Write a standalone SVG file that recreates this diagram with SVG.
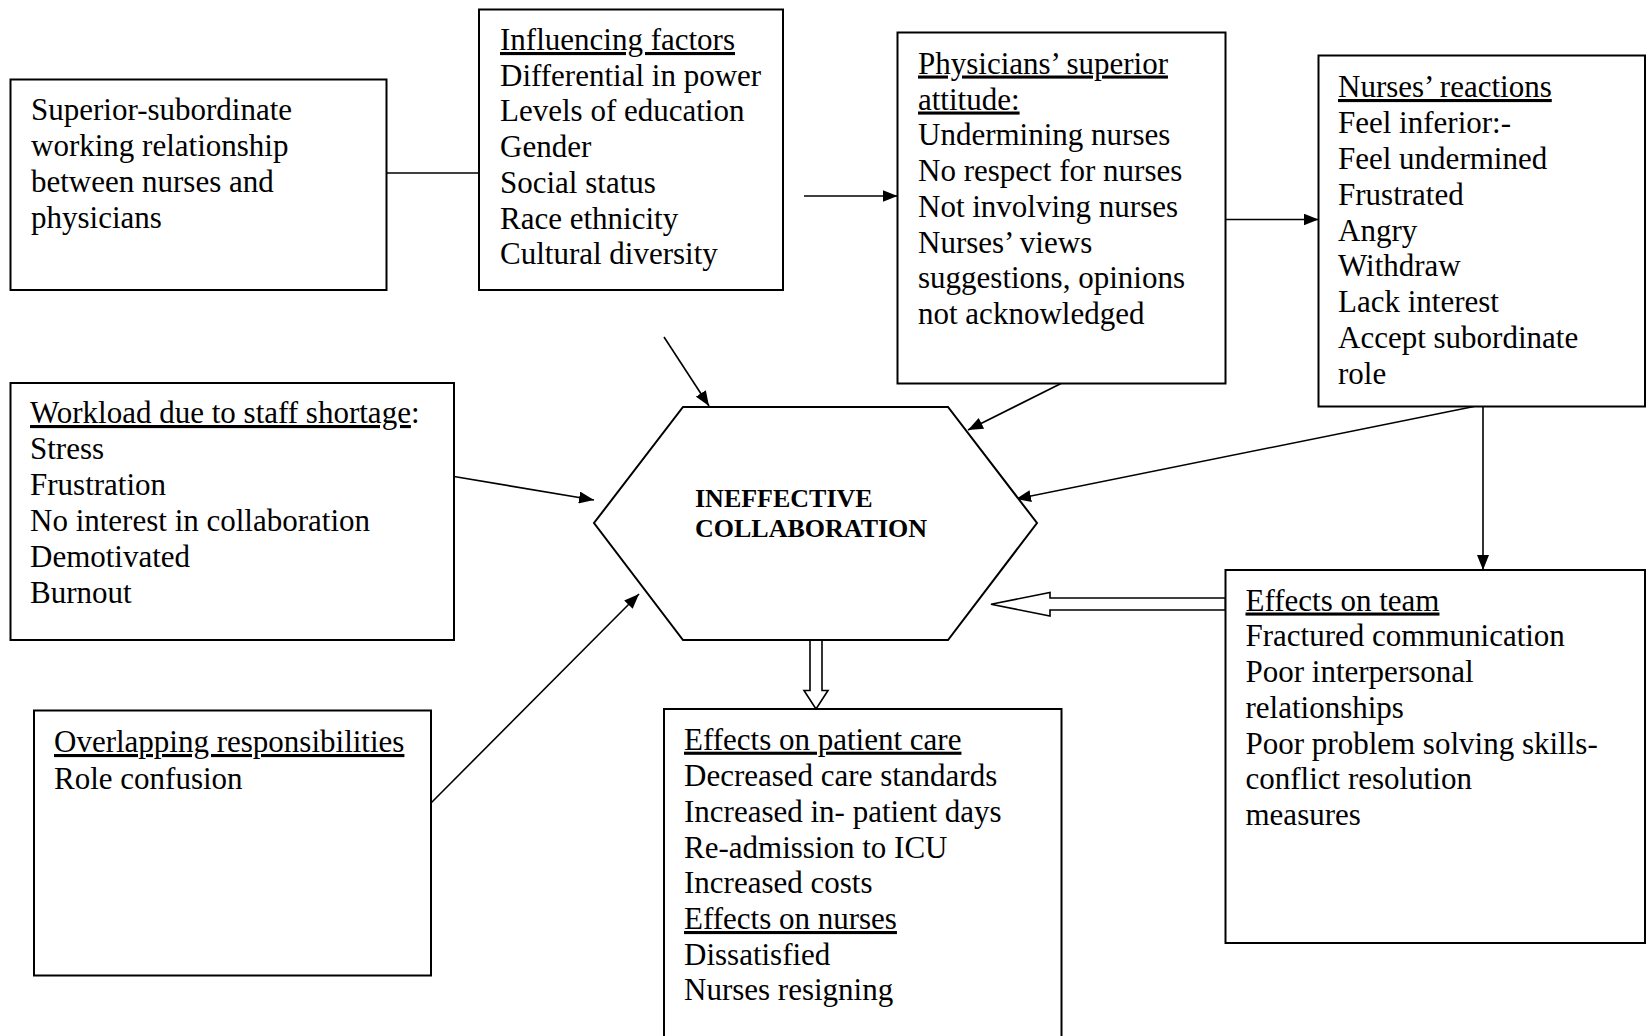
<svg xmlns="http://www.w3.org/2000/svg" width="1648" height="1036" viewBox="0 0 1648 1036">
<style>
.box{fill:#fff;stroke:#000;stroke-width:2}
.t{font-family:"Liberation Serif","Times New Roman",serif;font-size:31px;fill:#000}
.b{font-family:"Liberation Serif","Times New Roman",serif;font-size:26px;font-weight:bold;fill:#000}
.u{text-decoration:underline}
.c{stroke:#000;stroke-width:1.6;fill:none}
.blk{fill:#fff;stroke:#000;stroke-width:1.6}
</style>
<defs>
<marker id="ah" markerUnits="userSpaceOnUse" markerWidth="15" markerHeight="12" refX="15" refY="6" orient="auto">
<path d="M0,0 L15,6 L0,12 z" fill="#000"/>
</marker>
</defs>
<rect width="1648" height="1036" fill="#fff"/>
<g id="connectors">
<line class="c" x1="386.5" y1="173" x2="479" y2="173"/>
<line class="c" x1="804" y1="196" x2="897.5" y2="196" marker-end="url(#ah)"/>
<line class="c" x1="1225.5" y1="219.5" x2="1318.5" y2="219.5" marker-end="url(#ah)"/>
<line class="c" x1="664" y1="337" x2="709" y2="406" marker-end="url(#ah)"/>
<line class="c" x1="1061" y1="383.5" x2="968" y2="430" marker-end="url(#ah)"/>
<line class="c" x1="454" y1="476.5" x2="594" y2="500" marker-end="url(#ah)"/>
<line class="c" x1="1474" y1="406.5" x2="1016" y2="499" marker-end="url(#ah)"/>
<line class="c" x1="1483" y1="406.5" x2="1483" y2="570" marker-end="url(#ah)"/>
<line class="c" x1="431" y1="803" x2="639" y2="594" marker-end="url(#ah)"/>
<polygon class="blk" points="1225.5,598 1050,598 1050,592.5 991,604.2 1050,616 1050,610 1225.5,610"/>
<polygon class="blk" points="810,640 810,690.5 804,690.5 816,709 828,690.5 822,690.5 822,640"/>
</g>
<g id="superior-subordinate">
<rect class="box" x="10.5" y="79.5" width="376" height="210.5"/>
<text class="t"><tspan x="31" y="120">Superior-subordinate</tspan><tspan x="31" y="156">working relationship</tspan><tspan x="31" y="192">between nurses and</tspan><tspan x="31" y="228">physicians</tspan></text>
</g>
<g id="influencing-factors">
<rect class="box" x="479" y="9.5" width="304" height="280.5"/>
<text class="t"><tspan x="500" y="50" class="u">Influencing factors</tspan><tspan x="500" y="85.5">Differential in power</tspan><tspan x="500" y="121">Levels of education</tspan><tspan x="500" y="157">Gender</tspan><tspan x="500" y="192.5">Social status</tspan><tspan x="500" y="228.5">Race ethnicity</tspan><tspan x="500" y="264">Cultural diversity</tspan></text>
</g>
<g id="physicians-attitude">
<rect class="box" x="897.5" y="32.5" width="328" height="351"/>
<text class="t"><tspan x="918" y="73.5" class="u">Physicians’ superior</tspan><tspan x="918" y="109.5" class="u">attitude:</tspan><tspan x="918" y="145.3">Undermining nurses</tspan><tspan x="918" y="181">No respect for nurses</tspan><tspan x="918" y="216.7">Not involving nurses</tspan><tspan x="918" y="252.5">Nurses’ views</tspan><tspan x="918" y="288">suggestions, opinions</tspan><tspan x="918" y="324">not acknowledged</tspan></text>
</g>
<g id="nurses-reactions">
<rect class="box" x="1318.5" y="55.5" width="326.5" height="351"/>
<text class="t"><tspan x="1338" y="97" class="u">Nurses’ reactions</tspan><tspan x="1338" y="133">Feel inferior:-</tspan><tspan x="1338" y="169">Feel undermined</tspan><tspan x="1338" y="204.5">Frustrated</tspan><tspan x="1338" y="240.5">Angry</tspan><tspan x="1338" y="276">Withdraw</tspan><tspan x="1338" y="312">Lack interest</tspan><tspan x="1338" y="348">Accept subordinate</tspan><tspan x="1338" y="384">role</tspan></text>
</g>
<g id="workload">
<rect class="box" x="10.5" y="383" width="443.5" height="257"/>
<text class="t"><tspan x="30" y="423"><tspan class="u">Workload due to staff shortage</tspan>:</tspan><tspan x="30" y="459">Stress</tspan><tspan x="30" y="495">Frustration</tspan><tspan x="30" y="531">No interest in collaboration</tspan><tspan x="30" y="567">Demotivated</tspan><tspan x="30" y="603">Burnout</tspan></text>
</g>
<g id="ineffective-collaboration">
<polygon class="box" points="683,407 948,407 1037,523 948,640 683,640 594,523"/>
<text class="b"><tspan x="695" y="507">INEFFECTIVE</tspan><tspan x="695" y="537">COLLABORATION</tspan></text>
</g>
<g id="overlapping">
<rect class="box" x="34" y="710.5" width="397" height="265"/>
<text class="t"><tspan x="54" y="752" class="u">Overlapping responsibilities</tspan><tspan x="54" y="788.5">Role confusion</tspan></text>
</g>
<g id="effects-patient-care">
<rect class="box" x="664" y="709" width="397.5" height="340"/>
<text class="t"><tspan x="684" y="749.7" class="u">Effects on patient care</tspan><tspan x="684" y="785.5">Decreased care standards</tspan><tspan x="684" y="821.5">Increased in- patient days</tspan><tspan x="684" y="857.5">Re-admission to ICU</tspan><tspan x="684" y="893.3">Increased costs</tspan><tspan x="684" y="929" class="u">Effects on nurses</tspan><tspan x="684" y="964.5">Dissatisfied</tspan><tspan x="684" y="1000">Nurses resigning</tspan></text>
</g>
<g id="effects-team">
<rect class="box" x="1225.5" y="570" width="419.5" height="373"/>
<text class="t"><tspan x="1245.5" y="610.5" class="u">Effects on team</tspan><tspan x="1245.5" y="646">Fractured communication</tspan><tspan x="1245.5" y="682">Poor interpersonal</tspan><tspan x="1245.5" y="717.5">relationships</tspan><tspan x="1245.5" y="753.5">Poor problem solving skills-</tspan><tspan x="1245.5" y="789">conflict resolution</tspan><tspan x="1245.5" y="824.5">measures</tspan></text>
</g>
</svg>
